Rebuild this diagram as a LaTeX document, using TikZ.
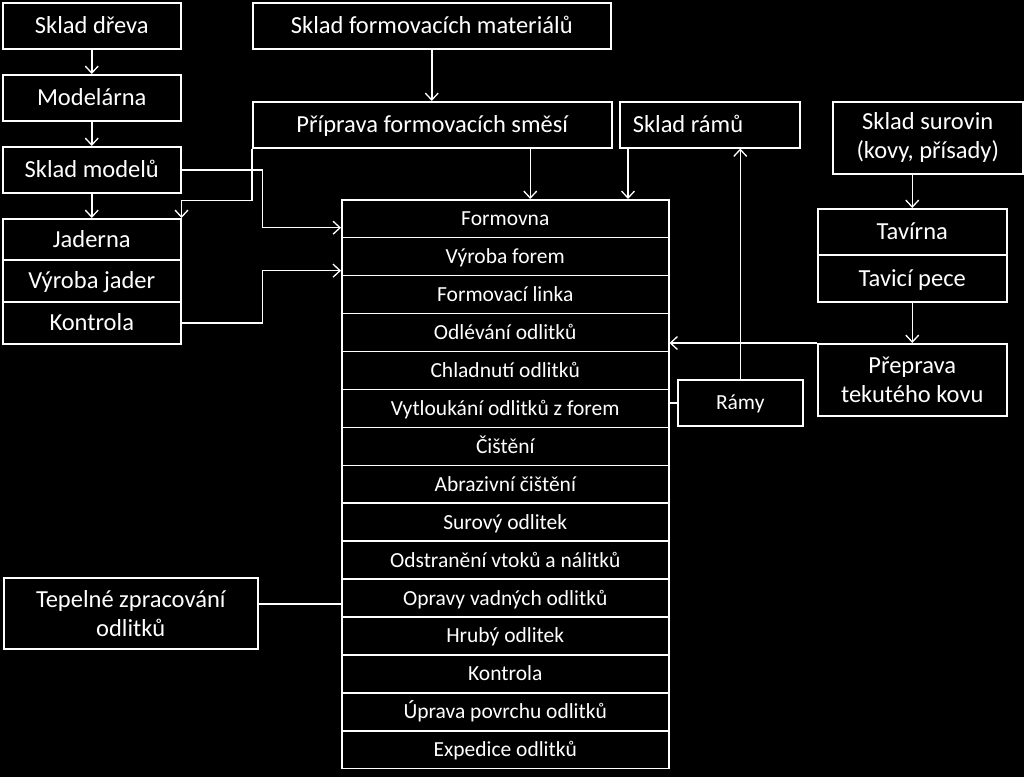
\documentclass[tikz,border=0pt]{standalone}
\usepackage{fontspec}
\setmainfont{Carlito}
\usetikzlibrary{arrows.meta}
\begin{document}
\begin{tikzpicture}[x=1pt,y=-1pt,
  base/.style={draw=white, line width=1.5pt, text=white, inner sep=0pt, anchor=north west, align=center},
  bigtwo/.style={base, font=\fontsize{24.5}{29}\selectfont},
  big/.style={bigtwo, text height=20pt, text depth=4.2pt},
  row/.style={base, font=\fontsize{21.5}{26}\selectfont, text height=18pt, text depth=4pt, minimum width=327pt, minimum height=37.93pt},
  small/.style={base, font=\fontsize{21.5}{26}\selectfont, text height=18pt, text depth=4pt},
  conn/.style={draw=white, line width=1.5pt},
  arr/.style={conn, -{Straight Barb[length=7pt,width=13pt,line width=1.3pt]}}]
\fill[black] (0,0) rectangle (1024,777);
\useasboundingbox (0,0) rectangle (1024,777);

\node[big, minimum width=178pt, minimum height=46pt] (dreva) at (2,2) {Sklad dřeva};
\node[big, minimum width=178pt, minimum height=46pt] (model) at (2,74) {Modelárna};
\node[big, minimum width=178pt, minimum height=46pt] (skmod) at (2,146) {Sklad modelů};
\node[big, minimum width=178pt, minimum height=41pt] (jad) at (2,218) {Jaderna};
\node[big, minimum width=178pt, minimum height=42pt] (vjad) at (2,259) {Výroba jader};
\node[big, minimum width=178pt, minimum height=42pt] (kont) at (2,301) {Kontrola};
\node[big, minimum width=358pt, minimum height=46pt] (sfm) at (252,2) {Sklad formovacích materiálů};
\node[big, minimum width=359pt, minimum height=46pt] (prip) at (252,101) {Příprava formovacích směsí};
\node[big, minimum width=180pt, minimum height=46pt] (skr) at (619,101) {\makebox[154pt][l]{Sklad rámů}};
\node[bigtwo, minimum width=190pt, minimum height=72pt] (ssur) at (832,101) {Sklad surovin\\(kovy, přísady)};
\node[big, minimum width=189pt, minimum height=46pt] (tav) at (817,208) {Tavírna};
\node[big, minimum width=189pt, minimum height=47pt] (tavp) at (817,254) {Tavicí pece};
\node[bigtwo, minimum width=189pt, minimum height=72pt] (prep) at (817,343) {Přeprava\\tekutého kovu};
\node[small, minimum width=125pt, minimum height=46pt] (ramy) at (677,379) {Rámy};
\node[bigtwo, minimum width=254pt, minimum height=71pt] (tep) at (3,577) {Tepelné zpracování\\odlitků};

\foreach \t [count=\i] in {Formovna, Výroba forem, Formovací linka, Odlévání odlitků, Chladnutí odlitků, Vytloukání odlitků z forem, Čištění, Abrazivní čištění, Surový odlitek, Odstranění vtoků a nálitků, Opravy vadných odlitků, Hrubý odlitek, Kontrola, Úprava povrchu odlitků, Expedice odlitků}
  \node[row] (r\i) at (341,{199+(\i-1)*37.93}) {\t};

\draw[arr] (dreva.south) -- (model.north);
\draw[arr] (model.south) -- (skmod.north);
\draw[arr] (skmod.south) -- (jad.north);
\draw[arr] (sfm.south) -- (sfm.south |- prip.north);
\draw[arr] (prip.south west) -- ++(0,52) -| (jad.north east);
\draw[arr] (skmod.east) -- ++(81,0) |- ([yshift=-9pt]r1.west);
\draw[arr] (kont.east) -- ++(81,0) |- ([yshift=-14pt]r2.west);
\draw[arr] ([xshift=98pt]prip.south) -- ([xshift=98pt]prip.south |- r1.north);
\draw[arr] ([xshift=9pt]skr.south west) -- ([xshift=9pt]skr.south west |- r1.north);
\draw[arr] (ramy.north) -- (ramy.north |- skr.south);
\draw[conn] (ramy.west) -- (ramy.west -| r6.east);
\draw[arr] (tav.north |- ssur.south) -- (tav.north);
\draw[arr] (tavp.south) -- (prep.north);
\draw[arr] (prep.north west) -- (prep.north west -| r4.east);
\draw[conn] ([yshift=9.5pt]tep.east) -- ([yshift=9.5pt]tep.east -| r11.west);
\end{tikzpicture}
\end{document}
